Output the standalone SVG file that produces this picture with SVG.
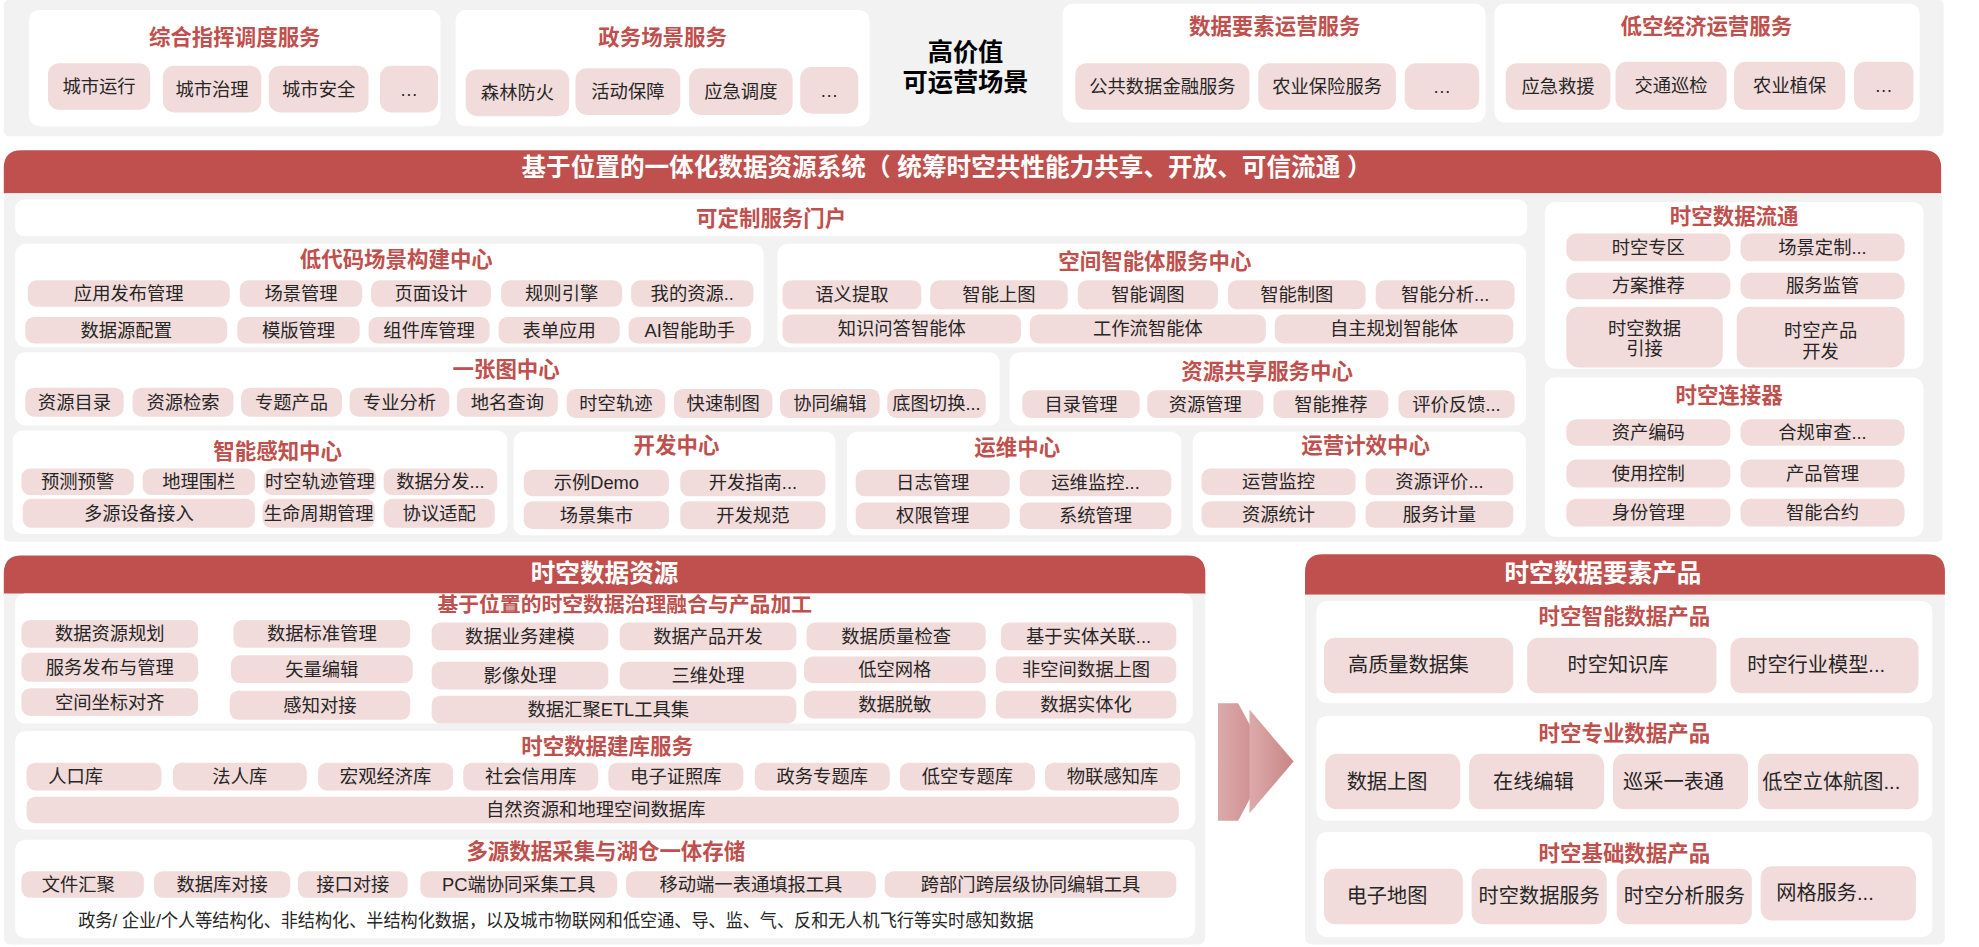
<svg xmlns="http://www.w3.org/2000/svg" width="1979" height="947" viewBox="0 0 1979 947">
<defs>
<style>
text{font-family:"Liberation Sans","Noto Sans CJK SC",sans-serif;text-anchor:middle;dominant-baseline:central}
.pn{fill:#f2f2f2}
.cd{fill:#ffffff}
.ch{fill:#f2dcdb}
.hd{fill:#c0504d}
.t{font-size:14.5px;fill:#262626}
.tp{font-size:16px;fill:#262626}
.ti{font-size:17px;font-weight:bold;fill:#c0504d}
.ht{font-size:19.5px;font-weight:bold;fill:#ffffff}
.big{font-size:20px;font-weight:bold;fill:#000000}
</style>
<linearGradient id="ag" x1="0" y1="0" x2="1" y2="0">
<stop offset="0" stop-color="#dcaaab"/>
<stop offset="1" stop-color="#c98586"/>
</linearGradient>
</defs>
<rect width="1979" height="947" fill="#ffffff"/>
<g transform="scale(1.26212 1.26267)">

<!-- top band -->
<rect class="pn" x="3" y="0" width="1537" height="108" rx="4"/>
<g id="card-zhihui">
<rect class="cd" x="23" y="8" width="326" height="92" rx="8"/>
<text class="ti" x="186" y="30">综合指挥调度服务</text>
<rect class="ch" x="38" y="50" width="81" height="37" rx="9"/><text class="t" x="78.5" y="68.5">城市运行</text>
<rect class="ch" x="129" y="52" width="78" height="37" rx="9"/><text class="t" x="168" y="70.5">城市治理</text>
<rect class="ch" x="213" y="52" width="79" height="37" rx="9"/><text class="t" x="252.5" y="70.5">城市安全</text>
<rect class="ch" x="301" y="52" width="46" height="37" rx="9"/><text class="t" x="324" y="70.5">…</text>
</g>
<g id="card-zhengwu">
<rect class="cd" x="361" y="8" width="328" height="92" rx="8"/>
<text class="ti" x="525" y="30">政务场景服务</text>
<rect class="ch" x="369" y="55" width="82" height="37" rx="9"/><text class="t" x="410" y="73.5">森林防火</text>
<rect class="ch" x="456" y="54" width="83" height="37" rx="9"/><text class="t" x="497.5" y="72.5">活动保障</text>
<rect class="ch" x="546" y="54" width="82" height="37" rx="9"/><text class="t" x="587" y="72.5">应急调度</text>
<rect class="ch" x="634" y="53" width="46" height="37" rx="9"/><text class="t" x="657" y="71.5">…</text>
</g>
<g id="label-gaojiazhi">
<text class="big" x="765" y="41">高价值</text>
<text class="big" x="765" y="65">可运营场景</text>
</g>
<g id="card-shujuyaosu">
<rect class="cd" x="842" y="3" width="335" height="94" rx="8"/>
<text class="ti" x="1010" y="21">数据要素运营服务</text>
<rect class="ch" x="852" y="50" width="138" height="37" rx="9"/><text class="t" x="921" y="68.5">公共数据金融服务</text>
<rect class="ch" x="997" y="50" width="109" height="37" rx="9"/><text class="t" x="1051.5" y="68.5">农业保险服务</text>
<rect class="ch" x="1113" y="50" width="59" height="37" rx="9"/><text class="t" x="1142.5" y="68.5">…</text>
</g>
<g id="card-dikong">
<rect class="cd" x="1184" y="3" width="337" height="94" rx="8"/>
<text class="ti" x="1352" y="21">低空经济运营服务</text>
<rect class="ch" x="1193" y="50" width="83" height="37" rx="9"/><text class="t" x="1234.5" y="68.5">应急救援</text>
<rect class="ch" x="1280" y="49" width="88" height="38" rx="9"/><text class="t" x="1324" y="68">交通巡检</text>
<rect class="ch" x="1374" y="49" width="88" height="38" rx="9"/><text class="t" x="1418" y="68">农业植保</text>
<rect class="ch" x="1469" y="49" width="47" height="38" rx="9"/><text class="t" x="1492.5" y="68">…</text>
</g>

<!-- main system bar -->
<g id="bar-system">
<path class="hd" d="M3,153 V133 Q3,119 17,119 H1524 Q1538,119 1538,133 V153 Z"/>
<text class="ht" x="750" y="133">基于位置的一体化数据资源系统（ 统筹时空共性能力共享、开放、可信流通 ）</text>
</g>
<rect class="pn" x="3" y="153" width="1536" height="276" rx="4"/>

<g id="card-menhu">
<rect class="cd" x="12" y="158" width="1198" height="29" rx="7"/>
<text class="ti" x="611" y="173.5">可定制服务门户</text>
</g>
<g id="card-didaima">
<rect class="cd" x="12" y="193" width="593" height="82" rx="8"/>
<text class="ti" x="314" y="206">低代码场景构建中心</text>
<rect class="ch" x="22" y="222" width="160" height="21" rx="7"/><text class="t" x="102" y="232.5">应用发布管理</text>
<rect class="ch" x="190" y="222" width="97" height="21" rx="7"/><text class="t" x="238.5" y="232.5">场景管理</text>
<rect class="ch" x="294" y="222" width="95" height="21" rx="7"/><text class="t" x="341.5" y="232.5">页面设计</text>
<rect class="ch" x="397" y="222" width="96" height="21" rx="7"/><text class="t" x="445" y="232.5">规则引擎</text>
<rect class="ch" x="500" y="222" width="97" height="21" rx="7"/><text class="t" x="548.5" y="232.5">我的资源..</text>
<rect class="ch" x="20" y="251" width="160" height="21" rx="7"/><text class="t" x="100" y="261.5">数据源配置</text>
<rect class="ch" x="188" y="251" width="97" height="21" rx="7"/><text class="t" x="236.5" y="261.5">模版管理</text>
<rect class="ch" x="292" y="251" width="96" height="21" rx="7"/><text class="t" x="340" y="261.5">组件库管理</text>
<rect class="ch" x="395" y="251" width="96" height="21" rx="7"/><text class="t" x="443" y="261.5">表单应用</text>
<rect class="ch" x="498" y="251" width="97" height="21" rx="7"/><text class="t" x="546.5" y="261.5">AI智能助手</text>
</g>
<g id="card-zhinengti">
<rect class="cd" x="616" y="193" width="593" height="82" rx="8"/>
<text class="ti" x="915" y="207.5">空间智能体服务中心</text>
<rect class="ch" x="620" y="222" width="110" height="23" rx="7"/><text class="t" x="675" y="233.5">语义提取</text>
<rect class="ch" x="737" y="222" width="109" height="23" rx="7"/><text class="t" x="791.5" y="233.5">智能上图</text>
<rect class="ch" x="854" y="222" width="111" height="23" rx="7"/><text class="t" x="909.5" y="233.5">智能调图</text>
<rect class="ch" x="973" y="222" width="109" height="23" rx="7"/><text class="t" x="1027.5" y="233.5">智能制图</text>
<rect class="ch" x="1090" y="222" width="110" height="23" rx="7"/><text class="t" x="1145" y="233.5">智能分析...</text>
<rect class="ch" x="620" y="249" width="189" height="23" rx="7"/><text class="t" x="714.5" y="260.5">知识问答智能体</text>
<rect class="ch" x="816" y="249" width="187" height="23" rx="7"/><text class="t" x="909.5" y="260.5">工作流智能体</text>
<rect class="ch" x="1010" y="249" width="189" height="23" rx="7"/><text class="t" x="1104.5" y="260.5">自主规划智能体</text>
</g>
<g id="card-yizhangtu">
<rect class="cd" x="12" y="279" width="780" height="58" rx="8"/>
<text class="ti" x="401" y="293">一张图中心</text>
<rect class="ch" x="20" y="307" width="78" height="23" rx="7"/><text class="t" x="59" y="318.5">资源目录</text>
<rect class="ch" x="105" y="307" width="80" height="23" rx="7"/><text class="t" x="145" y="318.5">资源检索</text>
<rect class="ch" x="191" y="307" width="80" height="23" rx="7"/><text class="t" x="231" y="318.5">专题产品</text>
<rect class="ch" x="277" y="307" width="79" height="23" rx="7"/><text class="t" x="316.5" y="318.5">专业分析</text>
<rect class="ch" x="362" y="307" width="80" height="23" rx="7"/><text class="t" x="402" y="318.5">地名查询</text>
<rect class="ch" x="449" y="308" width="78" height="23" rx="7"/><text class="t" x="488" y="319.5">时空轨迹</text>
<rect class="ch" x="534" y="308" width="78" height="23" rx="7"/><text class="t" x="573" y="319.5">快速制图</text>
<rect class="ch" x="618" y="308" width="79" height="23" rx="7"/><text class="t" x="657.5" y="319.5">协同编辑</text>
<rect class="ch" x="703" y="308" width="78" height="23" rx="7"/><text class="t" x="742" y="319.5">底图切换...</text>
</g>
<g id="card-gongxiang">
<rect class="cd" x="800" y="279" width="409" height="58" rx="8"/>
<text class="ti" x="1004" y="294.5">资源共享服务中心</text>
<rect class="ch" x="810" y="309" width="93" height="22" rx="7"/><text class="t" x="856.5" y="320">目录管理</text>
<rect class="ch" x="909" y="309" width="92" height="22" rx="7"/><text class="t" x="955" y="320">资源管理</text>
<rect class="ch" x="1009" y="309" width="91" height="22" rx="7"/><text class="t" x="1054.5" y="320">智能推荐</text>
<rect class="ch" x="1108" y="309" width="92" height="22" rx="7"/><text class="t" x="1154" y="320">评价反馈...</text>
</g>
<g id="card-ganzhi">
<rect class="cd" x="10" y="341" width="392" height="82" rx="8"/>
<text class="ti" x="220" y="358">智能感知中心</text>
<rect class="ch" x="17" y="371" width="89" height="21" rx="7"/><text class="t" x="61.5" y="381.5">预测预警</text>
<rect class="ch" x="113" y="371" width="89" height="21" rx="7"/><text class="t" x="157.5" y="381.5">地理围栏</text>
<rect class="ch" x="209" y="371" width="89" height="21" rx="7"/><text class="t" x="253.5" y="381.5">时空轨迹管理</text>
<rect class="ch" x="304" y="371" width="90" height="21" rx="7"/><text class="t" x="349" y="381.5">数据分发...</text>
<rect class="ch" x="18" y="395" width="184" height="23" rx="7"/><text class="t" x="110" y="406.5">多源设备接入</text>
<rect class="ch" x="208" y="395" width="89" height="23" rx="7"/><text class="t" x="252.5" y="406.5">生命周期管理</text>
<rect class="ch" x="304" y="395" width="88" height="23" rx="7"/><text class="t" x="348" y="406.5">协议适配</text>
</g>
<g id="card-kaifa">
<rect class="cd" x="407" y="342" width="255" height="82" rx="8"/>
<text class="ti" x="536" y="353">开发中心</text>
<rect class="ch" x="415" y="372" width="115" height="21" rx="7"/><text class="t" x="472.5" y="382.5">示例Demo</text>
<rect class="ch" x="539" y="372" width="115" height="21" rx="7"/><text class="t" x="596.5" y="382.5">开发指南...</text>
<rect class="ch" x="415" y="397" width="115" height="22" rx="7"/><text class="t" x="472.5" y="408">场景集市</text>
<rect class="ch" x="539" y="397" width="115" height="22" rx="7"/><text class="t" x="596.5" y="408">开发规范</text>
</g>
<g id="card-yunwei">
<rect class="cd" x="671" y="342" width="265" height="82" rx="8"/>
<text class="ti" x="806" y="355">运维中心</text>
<rect class="ch" x="678" y="372" width="122" height="21" rx="7"/><text class="t" x="739" y="382.5">日志管理</text>
<rect class="ch" x="808" y="372" width="120" height="21" rx="7"/><text class="t" x="868" y="382.5">运维监控...</text>
<rect class="ch" x="678" y="398" width="122" height="21" rx="7"/><text class="t" x="739" y="408.5">权限管理</text>
<rect class="ch" x="808" y="398" width="120" height="21" rx="7"/><text class="t" x="868" y="408.5">系统管理</text>
</g>
<g id="card-yunying">
<rect class="cd" x="945" y="342" width="264" height="82" rx="8"/>
<text class="ti" x="1082" y="353">运营计效中心</text>
<rect class="ch" x="952" y="371" width="122" height="21" rx="7"/><text class="t" x="1013" y="381.5">运营监控</text>
<rect class="ch" x="1082" y="371" width="117" height="21" rx="7"/><text class="t" x="1140.5" y="381.5">资源评价...</text>
<rect class="ch" x="952" y="397" width="122" height="21" rx="7"/><text class="t" x="1013" y="407.5">资源统计</text>
<rect class="ch" x="1082" y="397" width="117" height="21" rx="7"/><text class="t" x="1140.5" y="407.5">服务计量</text>
</g>
<g id="card-liutong">
<rect class="cd" x="1224" y="160" width="300" height="132" rx="8"/>
<text class="ti" x="1374" y="172">时空数据流通</text>
<rect class="ch" x="1241" y="185" width="130" height="22" rx="8"/><text class="t" x="1306" y="196">时空专区</text>
<rect class="ch" x="1379" y="185" width="130" height="22" rx="8"/><text class="t" x="1444" y="196">场景定制...</text>
<rect class="ch" x="1241" y="216" width="130" height="21" rx="8"/><text class="t" x="1306" y="226.5">方案推荐</text>
<rect class="ch" x="1379" y="216" width="130" height="21" rx="8"/><text class="t" x="1444" y="226.5">服务监管</text>
<rect class="ch" x="1241" y="243" width="124" height="48" rx="10"/><text class="t" x="1303" y="260">时空数据</text><text class="t" x="1303" y="276">引接</text>
<rect class="ch" x="1376" y="243" width="133" height="48" rx="10"/><text class="t" x="1442.5" y="262">时空产品</text><text class="t" x="1442.5" y="278">开发</text>
</g>
<g id="card-lianjieqi">
<rect class="cd" x="1224" y="299" width="300" height="126" rx="8"/>
<text class="ti" x="1370" y="314">时空连接器</text>
<rect class="ch" x="1241" y="332" width="130" height="21" rx="8"/><text class="t" x="1306" y="342.5">资产编码</text>
<rect class="ch" x="1379" y="332" width="130" height="21" rx="8"/><text class="t" x="1444" y="342.5">合规审查...</text>
<rect class="ch" x="1241" y="364" width="130" height="22" rx="8"/><text class="t" x="1306" y="375">使用控制</text>
<rect class="ch" x="1379" y="364" width="130" height="22" rx="8"/><text class="t" x="1444" y="375">产品管理</text>
<rect class="ch" x="1241" y="395" width="130" height="22" rx="8"/><text class="t" x="1306" y="406">身份管理</text>
<rect class="ch" x="1379" y="395" width="130" height="22" rx="8"/><text class="t" x="1444" y="406">智能合约</text>
</g>

<!-- bottom left: data resources -->
<g id="section-ziyuan">
<path class="hd" d="M3,471 V454 Q3,440 17,440 H941 Q955,440 955,454 V471 Z"/>
<text class="ht" x="479" y="454">时空数据资源</text>
<path class="pn" d="M3,470 H955 V742 Q955,748 949,748 H9 Q3,748 3,742 Z"/>
</g>
<g id="card-zhili">
<rect class="cd" x="12" y="470" width="933" height="103" rx="8"/>
<text class="ti" x="495" y="479" style="font-size:16.5px">基于位置的时空数据治理融合与产品加工</text>
<rect class="ch" x="17" y="491" width="140" height="22" rx="7"/><text class="t" x="87" y="502">数据资源规划</text>
<rect class="ch" x="17" y="517" width="140" height="23" rx="7"/><text class="t" x="87" y="528.5">服务发布与管理</text>
<rect class="ch" x="17" y="545" width="140" height="22" rx="7"/><text class="t" x="87" y="556">空间坐标对齐</text>
<rect class="ch" x="185" y="491" width="140" height="22" rx="7"/><text class="t" x="255" y="502">数据标准管理</text>
<rect class="ch" x="183" y="519" width="144" height="22" rx="7"/><text class="t" x="255" y="530">矢量编辑</text>
<rect class="ch" x="182" y="547" width="143" height="23" rx="7"/><text class="t" x="253.5" y="558.5">感知对接</text>
<rect class="ch" x="342" y="493" width="140" height="22" rx="7"/><text class="t" x="412" y="504">数据业务建模</text>
<rect class="ch" x="342" y="524" width="140" height="22" rx="7"/><text class="t" x="412" y="535">影像处理</text>
<rect class="ch" x="342" y="551" width="289" height="22" rx="7"/><text class="t" x="482" y="562">数据汇聚ETL工具集</text>
<rect class="ch" x="491" y="493" width="140" height="22" rx="7"/><text class="t" x="561" y="504">数据产品开发</text>
<rect class="ch" x="491" y="524" width="140" height="22" rx="7"/><text class="t" x="561" y="535">三维处理</text>
<rect class="ch" x="639" y="493" width="142" height="22" rx="7"/><text class="t" x="710" y="504">数据质量检查</text>
<rect class="ch" x="637" y="520" width="144" height="21" rx="7"/><text class="t" x="709" y="530.5">低空网格</text>
<rect class="ch" x="637" y="547" width="144" height="22" rx="7"/><text class="t" x="709" y="558">数据脱敏</text>
<rect class="ch" x="793" y="493" width="139" height="22" rx="7"/><text class="t" x="862.5" y="504">基于实体关联...</text>
<rect class="ch" x="789" y="520" width="143" height="21" rx="7"/><text class="t" x="860.5" y="530.5">非空间数据上图</text>
<rect class="ch" x="789" y="547" width="143" height="22" rx="7"/><text class="t" x="860.5" y="558">数据实体化</text>
</g>
<g id="card-jianku">
<rect class="cd" x="12" y="579" width="935" height="78" rx="8"/>
<text class="ti" x="481" y="591.5">时空数据建库服务</text>
<rect class="ch" x="21" y="604" width="107" height="22" rx="7"/><text class="t" x="60" y="615">人口库</text>
<rect class="ch" x="137" y="604" width="106" height="22" rx="7"/><text class="t" x="190" y="615">法人库</text>
<rect class="ch" x="252" y="604" width="107" height="22" rx="7"/><text class="t" x="305.5" y="615">宏观经济库</text>
<rect class="ch" x="367" y="604" width="107" height="22" rx="7"/><text class="t" x="420.5" y="615">社会信用库</text>
<rect class="ch" x="482" y="604" width="107" height="22" rx="7"/><text class="t" x="535.5" y="615">电子证照库</text>
<rect class="ch" x="598" y="604" width="107" height="22" rx="7"/><text class="t" x="651.5" y="615">政务专题库</text>
<rect class="ch" x="713" y="604" width="107" height="22" rx="7"/><text class="t" x="766.5" y="615">低空专题库</text>
<rect class="ch" x="828" y="604" width="107" height="22" rx="7"/><text class="t" x="881.5" y="615">物联感知库</text>
<rect class="ch" x="21" y="631" width="913" height="21" rx="7"/><text class="t" x="472" y="641.5">自然资源和地理空间数据库</text>
</g>
<g id="card-caiji">
<rect class="cd" x="12" y="665" width="935" height="78" rx="8"/>
<text class="ti" x="480" y="675">多源数据采集与湖仓一体存储</text>
<rect class="ch" x="17" y="690" width="97" height="21" rx="7"/><text class="t" x="62" y="700.5">文件汇聚</text>
<rect class="ch" x="122" y="690" width="108" height="21" rx="7"/><text class="t" x="176" y="700.5">数据库对接</text>
<rect class="ch" x="236" y="690" width="87" height="21" rx="7"/><text class="t" x="279.5" y="700.5">接口对接</text>
<rect class="ch" x="333" y="690" width="156" height="21" rx="7"/><text class="t" x="411" y="700.5">PC端协同采集工具</text>
<rect class="ch" x="496" y="690" width="198" height="21" rx="7"/><text class="t" x="595" y="700.5">移动端一表通填报工具</text>
<rect class="ch" x="701" y="690" width="231" height="21" rx="7"/><text class="t" x="816.5" y="700.5">跨部门跨层级协同编辑工具</text>
<text class="t" x="440.5" y="729" textLength="757" lengthAdjust="spacingAndGlyphs">政务/ 企业/个人等结构化、非结构化、半结构化数据，以及城市物联网和低空通、导、监、气、反和无人机飞行等实时感知数据</text>
</g>

<!-- connector arrow -->
<g id="connectors">
<path fill="url(#ag)" d="M965,557 L981,557 L1006,603 L981,650 L965,650 Z"/>
<path fill="url(#ag)" d="M990,562 L1025,603 L990,644 Z"/>
</g>

<!-- bottom right: products -->
<g id="section-chanpin">
<path class="hd" d="M1034,471 V453 Q1034,439 1048,439 H1527 Q1541,439 1541,453 V471 Z"/>
<text class="ht" x="1270" y="454">时空数据要素产品</text>
<path class="pn" d="M1034,471 H1541 V742 Q1541,748 1535,748 H1040 Q1034,748 1034,742 Z"/>
</g>
<g id="card-zhineng-chanpin">
<rect class="cd" x="1043" y="476" width="488" height="81" rx="8"/>
<text class="ti" x="1287" y="489">时空智能数据产品</text>
<rect class="ch" x="1049" y="505" width="150" height="44" rx="9"/><text class="tp" x="1116" y="527">高质量数据集</text>
<rect class="ch" x="1210" y="505" width="150" height="44" rx="9"/><text class="tp" x="1282" y="527">时空知识库</text>
<rect class="ch" x="1371" y="505" width="149" height="44" rx="9"/><text class="tp" x="1439" y="527">时空行业模型...</text>
</g>
<g id="card-zhuanye-chanpin">
<rect class="cd" x="1043" y="567" width="488" height="83" rx="8"/>
<text class="ti" x="1287" y="581">时空专业数据产品</text>
<rect class="ch" x="1050" y="597" width="107" height="44" rx="9"/><text class="tp" x="1099" y="619">数据上图</text>
<rect class="ch" x="1164" y="597" width="107" height="44" rx="9"/><text class="tp" x="1215" y="619">在线编辑</text>
<rect class="ch" x="1278" y="597" width="107" height="44" rx="9"/><text class="tp" x="1326" y="619">巡采一表通</text>
<rect class="ch" x="1393" y="597" width="127" height="44" rx="9"/><text class="tp" x="1451" y="619">低空立体航图...</text>
</g>
<g id="card-jichu-chanpin">
<rect class="cd" x="1043" y="659" width="488" height="83" rx="8"/>
<text class="ti" x="1287" y="676">时空基础数据产品</text>
<rect class="ch" x="1049" y="688" width="110" height="44" rx="9"/><text class="tp" x="1099" y="710">电子地图</text>
<rect class="ch" x="1166" y="688" width="107" height="44" rx="9"/><text class="tp" x="1219.5" y="710">时空数据服务</text>
<rect class="ch" x="1281" y="688" width="107" height="44" rx="9"/><text class="tp" x="1334.5" y="710">时空分析服务</text>
<rect class="ch" x="1395" y="686" width="123" height="43" rx="9"/><text class="tp" x="1446" y="707.5">网格服务...</text>
</g>
</g>
</svg>
